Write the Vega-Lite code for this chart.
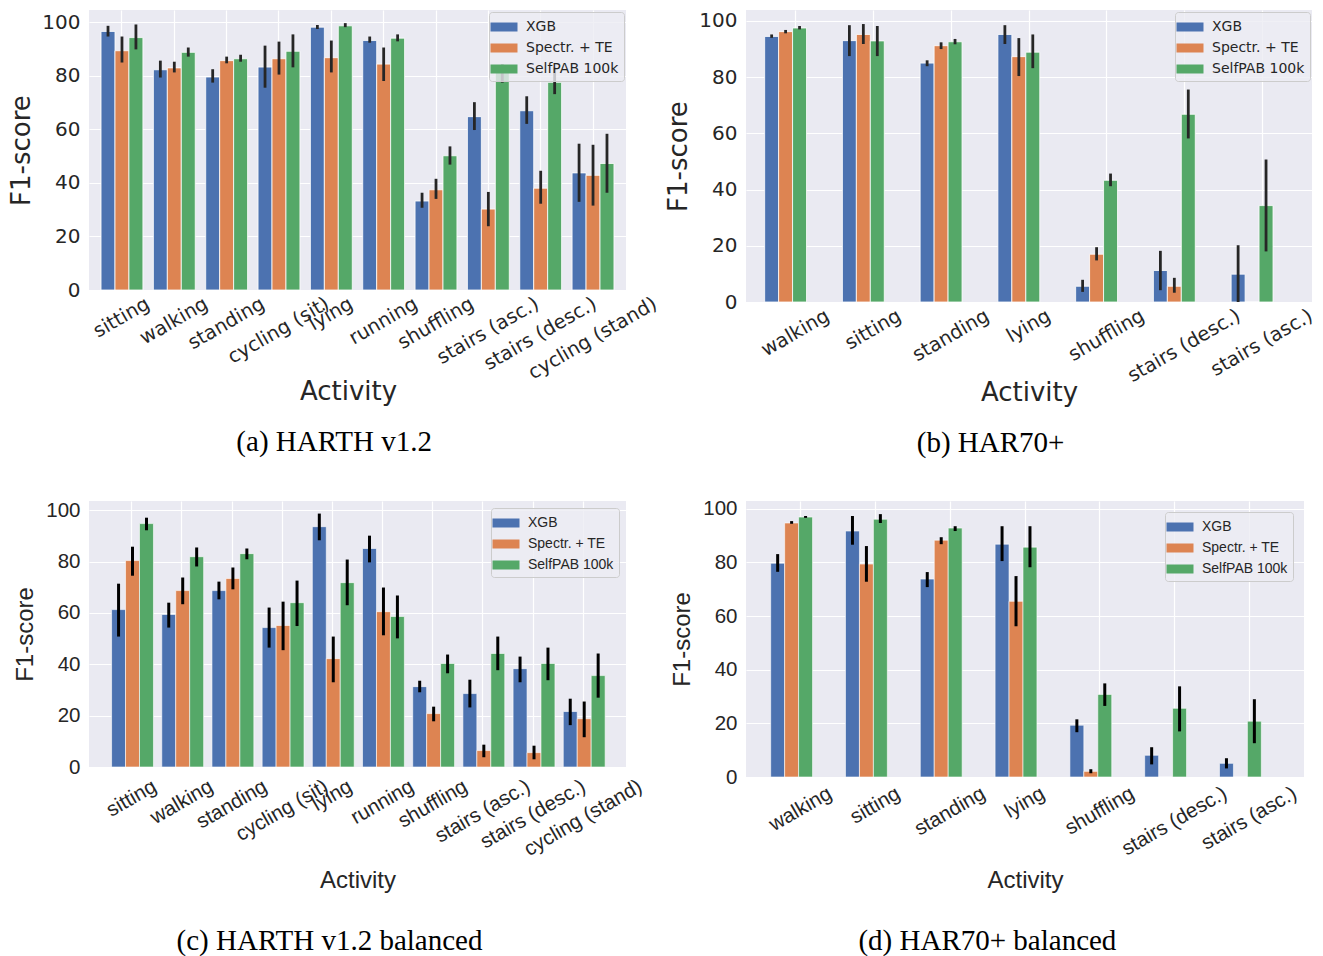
{
  "$schema": "https://vega.github.io/schema/vega-lite/v6.json",
  "padding": {"left": 8, "top": 10, "right": 5, "bottom": 2},
  "background": "white",
  "columns": 2,
  "bounds": "flush",
  "spacing": {"row": 199, "column": 120},
  "resolve": {"scale": {"color": "independent"}, "legend": {"color": "independent"}},
  "config": {
    "view": {"fill": "#EAEAF2", "stroke": null},
    "axis": {"domain": false, "ticks": false, "grid": true, "gridColor": "#ffffff", "gridWidth": 1.2, "labelColor": "#262626", "titleColor": "#262626", "titleFontWeight": "normal"},
    "legend": {"title": null, "symbolType": "M-1.35,-0.45H1.35V0.45H-1.35Z", "symbolSize": 400, "symbolStrokeWidth": 0, "labelFontSize": 14, "labelColor": "#262626", "padding": 5, "rowPadding": 4, "labelOffset": 12, "fillColor": "rgba(236,236,243,0.8)", "strokeColor": "#cccccc", "cornerRadius": 3},
    "title": {"orient": "bottom", "font": "Liberation Serif", "fontSize": 29, "fontWeight": "normal", "color": "#000000", "anchor": "middle", "frame": "bounds"}
  },
  "datasets": {
    "a": [
      {"activity": "sitting", "method": "XGB", "f1": 96.5, "lo": 94.6, "hi": 98.6},
      {"activity": "sitting", "method": "Spectr. + TE", "f1": 89.3, "lo": 84.9, "hi": 94.6},
      {"activity": "sitting", "method": "SelfPAB 100k", "f1": 94.2, "lo": 89.8, "hi": 99.1},
      {"activity": "walking", "method": "XGB", "f1": 82.2, "lo": 79.3, "hi": 85.6},
      {"activity": "walking", "method": "Spectr. + TE", "f1": 82.9, "lo": 81.2, "hi": 85.2},
      {"activity": "walking", "method": "SelfPAB 100k", "f1": 88.7, "lo": 87.1, "hi": 90.5},
      {"activity": "standing", "method": "XGB", "f1": 79.5, "lo": 77.4, "hi": 82.4},
      {"activity": "standing", "method": "Spectr. + TE", "f1": 85.6, "lo": 84.6, "hi": 87.1},
      {"activity": "standing", "method": "SelfPAB 100k", "f1": 86.3, "lo": 85.2, "hi": 87.8},
      {"activity": "cycling (sit)", "method": "XGB", "f1": 83.2, "lo": 75.5, "hi": 91.2},
      {"activity": "cycling (sit)", "method": "Spectr. + TE", "f1": 86.3, "lo": 80.4, "hi": 92.7},
      {"activity": "cycling (sit)", "method": "SelfPAB 100k", "f1": 89.1, "lo": 83.1, "hi": 95.4},
      {"activity": "lying", "method": "XGB", "f1": 98.1, "lo": 97.4, "hi": 98.9},
      {"activity": "lying", "method": "Spectr. + TE", "f1": 86.7, "lo": 81.2, "hi": 93.1},
      {"activity": "lying", "method": "SelfPAB 100k", "f1": 98.6, "lo": 98.1, "hi": 99.6},
      {"activity": "running", "method": "XGB", "f1": 93.1, "lo": 92.3, "hi": 94.6},
      {"activity": "running", "method": "Spectr. + TE", "f1": 84.3, "lo": 78.0, "hi": 90.5},
      {"activity": "running", "method": "SelfPAB 100k", "f1": 94.0, "lo": 92.8, "hi": 95.4},
      {"activity": "shuffling", "method": "XGB", "f1": 33.2, "lo": 30.7, "hi": 36.3},
      {"activity": "shuffling", "method": "Spectr. + TE", "f1": 37.4, "lo": 34.0, "hi": 41.5},
      {"activity": "shuffling", "method": "SelfPAB 100k", "f1": 50.1, "lo": 46.8, "hi": 53.6},
      {"activity": "stairs (asc.)", "method": "XGB", "f1": 64.7, "lo": 59.7, "hi": 70.1},
      {"activity": "stairs (asc.)", "method": "Spectr. + TE", "f1": 30.2, "lo": 23.8, "hi": 36.6},
      {"activity": "stairs (asc.)", "method": "SelfPAB 100k", "f1": 81.7, "lo": 77.4, "hi": 84.3},
      {"activity": "stairs (desc.)", "method": "XGB", "f1": 66.9, "lo": 62.0, "hi": 72.3},
      {"activity": "stairs (desc.)", "method": "Spectr. + TE", "f1": 38.0, "lo": 32.2, "hi": 44.5},
      {"activity": "stairs (desc.)", "method": "SelfPAB 100k", "f1": 77.5, "lo": 73.1, "hi": 83.1},
      {"activity": "cycling (stand)", "method": "XGB", "f1": 43.7, "lo": 32.9, "hi": 54.6},
      {"activity": "cycling (stand)", "method": "Spectr. + TE", "f1": 42.8, "lo": 31.5, "hi": 54.2},
      {"activity": "cycling (stand)", "method": "SelfPAB 100k", "f1": 47.2, "lo": 36.3, "hi": 58.3}
    ],
    "b": [
      {"activity": "walking", "method": "XGB", "f1": 94.5, "lo": 94.0, "hi": 95.2},
      {"activity": "walking", "method": "Spectr. + TE", "f1": 96.2, "lo": 95.6, "hi": 96.8},
      {"activity": "walking", "method": "SelfPAB 100k", "f1": 97.5, "lo": 97.0, "hi": 98.2},
      {"activity": "sitting", "method": "XGB", "f1": 93.0, "lo": 87.5, "hi": 98.5},
      {"activity": "sitting", "method": "Spectr. + TE", "f1": 95.2, "lo": 91.8, "hi": 98.9},
      {"activity": "sitting", "method": "SelfPAB 100k", "f1": 92.9, "lo": 87.5, "hi": 98.2},
      {"activity": "standing", "method": "XGB", "f1": 85.0, "lo": 83.9, "hi": 86.0},
      {"activity": "standing", "method": "Spectr. + TE", "f1": 91.2, "lo": 90.0, "hi": 92.4},
      {"activity": "standing", "method": "SelfPAB 100k", "f1": 92.6, "lo": 91.7, "hi": 93.6},
      {"activity": "lying", "method": "XGB", "f1": 95.2, "lo": 91.8, "hi": 98.5},
      {"activity": "lying", "method": "Spectr. + TE", "f1": 87.3, "lo": 80.4, "hi": 93.9},
      {"activity": "lying", "method": "SelfPAB 100k", "f1": 88.9, "lo": 83.2, "hi": 95.2},
      {"activity": "shuffling", "method": "XGB", "f1": 5.6, "lo": 3.6, "hi": 7.9},
      {"activity": "shuffling", "method": "Spectr. + TE", "f1": 17.0, "lo": 14.8, "hi": 19.5},
      {"activity": "shuffling", "method": "SelfPAB 100k", "f1": 43.3, "lo": 41.2, "hi": 45.7},
      {"activity": "stairs (desc.)", "method": "XGB", "f1": 11.2, "lo": 4.2, "hi": 18.2},
      {"activity": "stairs (desc.)", "method": "Spectr. + TE", "f1": 5.6, "lo": 3.3, "hi": 8.6},
      {"activity": "stairs (desc.)", "method": "SelfPAB 100k", "f1": 66.8, "lo": 58.2, "hi": 75.6},
      {"activity": "stairs (asc.)", "method": "XGB", "f1": 9.9, "lo": 0.0, "hi": 20.2},
      {"activity": "stairs (asc.)", "method": "Spectr. + TE", "f1": 0.0, "lo": null, "hi": null},
      {"activity": "stairs (asc.)", "method": "SelfPAB 100k", "f1": 34.3, "lo": 18.0, "hi": 50.7}
    ],
    "c": [
      {"activity": "sitting", "method": "XGB", "f1": 61.3, "lo": 50.8, "hi": 71.4},
      {"activity": "sitting", "method": "Spectr. + TE", "f1": 80.4, "lo": 74.5, "hi": 85.8},
      {"activity": "sitting", "method": "SelfPAB 100k", "f1": 94.8, "lo": 92.2, "hi": 97.1},
      {"activity": "walking", "method": "XGB", "f1": 59.4, "lo": 54.3, "hi": 64.0},
      {"activity": "walking", "method": "Spectr. + TE", "f1": 68.7, "lo": 63.4, "hi": 73.8},
      {"activity": "walking", "method": "SelfPAB 100k", "f1": 81.9, "lo": 78.1, "hi": 85.5},
      {"activity": "standing", "method": "XGB", "f1": 68.7, "lo": 65.3, "hi": 72.2},
      {"activity": "standing", "method": "Spectr. + TE", "f1": 73.4, "lo": 69.2, "hi": 77.7},
      {"activity": "standing", "method": "SelfPAB 100k", "f1": 83.1, "lo": 80.9, "hi": 85.1},
      {"activity": "cycling (sit)", "method": "XGB", "f1": 54.3, "lo": 46.5, "hi": 62.1},
      {"activity": "cycling (sit)", "method": "Spectr. + TE", "f1": 55.1, "lo": 45.5, "hi": 64.4},
      {"activity": "cycling (sit)", "method": "SelfPAB 100k", "f1": 64.0, "lo": 54.9, "hi": 72.6},
      {"activity": "lying", "method": "XGB", "f1": 93.6, "lo": 88.3, "hi": 98.7},
      {"activity": "lying", "method": "Spectr. + TE", "f1": 42.2, "lo": 33.0, "hi": 50.8},
      {"activity": "lying", "method": "SelfPAB 100k", "f1": 71.8, "lo": 63.0, "hi": 80.8},
      {"activity": "running", "method": "XGB", "f1": 85.1, "lo": 79.7, "hi": 90.1},
      {"activity": "running", "method": "Spectr. + TE", "f1": 60.5, "lo": 51.3, "hi": 69.9},
      {"activity": "running", "method": "SelfPAB 100k", "f1": 58.6, "lo": 50.1, "hi": 66.8},
      {"activity": "shuffling", "method": "XGB", "f1": 31.3, "lo": 29.1, "hi": 33.6},
      {"activity": "shuffling", "method": "Spectr. + TE", "f1": 20.8, "lo": 17.8, "hi": 23.5},
      {"activity": "shuffling", "method": "SelfPAB 100k", "f1": 40.3, "lo": 36.5, "hi": 43.8},
      {"activity": "stairs (asc.)", "method": "XGB", "f1": 28.6, "lo": 23.2, "hi": 34.0},
      {"activity": "stairs (asc.)", "method": "Spectr. + TE", "f1": 6.4, "lo": 3.8, "hi": 8.7},
      {"activity": "stairs (asc.)", "method": "SelfPAB 100k", "f1": 44.2, "lo": 37.7, "hi": 50.8},
      {"activity": "stairs (desc.)", "method": "XGB", "f1": 38.3, "lo": 33.0, "hi": 43.0},
      {"activity": "stairs (desc.)", "method": "Spectr. + TE", "f1": 5.6, "lo": 3.0, "hi": 8.3},
      {"activity": "stairs (desc.)", "method": "SelfPAB 100k", "f1": 40.3, "lo": 33.8, "hi": 46.5},
      {"activity": "cycling (stand)", "method": "XGB", "f1": 21.6, "lo": 16.3, "hi": 26.6},
      {"activity": "cycling (stand)", "method": "Spectr. + TE", "f1": 18.8, "lo": 11.6, "hi": 25.5},
      {"activity": "cycling (stand)", "method": "SelfPAB 100k", "f1": 35.6, "lo": 27.0, "hi": 44.2}
    ],
    "d": [
      {"activity": "walking", "method": "XGB", "f1": 79.7, "lo": 76.5, "hi": 83.1},
      {"activity": "walking", "method": "Spectr. + TE", "f1": 94.7, "lo": 94.4, "hi": 95.4},
      {"activity": "walking", "method": "SelfPAB 100k", "f1": 96.9, "lo": 96.6, "hi": 97.3},
      {"activity": "sitting", "method": "XGB", "f1": 91.7, "lo": 86.6, "hi": 97.3},
      {"activity": "sitting", "method": "Spectr. + TE", "f1": 79.4, "lo": 72.8, "hi": 86.1},
      {"activity": "sitting", "method": "SelfPAB 100k", "f1": 96.1, "lo": 94.7, "hi": 98.0},
      {"activity": "standing", "method": "XGB", "f1": 73.8, "lo": 70.8, "hi": 76.4},
      {"activity": "standing", "method": "Spectr. + TE", "f1": 88.3, "lo": 86.8, "hi": 89.4},
      {"activity": "standing", "method": "SelfPAB 100k", "f1": 92.8, "lo": 91.7, "hi": 93.5},
      {"activity": "lying", "method": "XGB", "f1": 86.8, "lo": 80.5, "hi": 93.5},
      {"activity": "lying", "method": "Spectr. + TE", "f1": 65.5, "lo": 56.2, "hi": 74.9},
      {"activity": "lying", "method": "SelfPAB 100k", "f1": 85.7, "lo": 78.2, "hi": 93.5},
      {"activity": "shuffling", "method": "XGB", "f1": 19.3, "lo": 16.7, "hi": 21.5},
      {"activity": "shuffling", "method": "Spectr. + TE", "f1": 2.1, "lo": 1.4, "hi": 2.9},
      {"activity": "shuffling", "method": "SelfPAB 100k", "f1": 30.8, "lo": 26.5, "hi": 34.9},
      {"activity": "stairs (desc.)", "method": "XGB", "f1": 8.1, "lo": 4.7, "hi": 11.1},
      {"activity": "stairs (desc.)", "method": "Spectr. + TE", "f1": 0.0, "lo": null, "hi": null},
      {"activity": "stairs (desc.)", "method": "SelfPAB 100k", "f1": 25.6, "lo": 17.0, "hi": 33.8},
      {"activity": "stairs (asc.)", "method": "XGB", "f1": 5.1, "lo": 3.2, "hi": 7.0},
      {"activity": "stairs (asc.)", "method": "Spectr. + TE", "f1": 0.0, "lo": null, "hi": null},
      {"activity": "stairs (asc.)", "method": "SelfPAB 100k", "f1": 20.8, "lo": 12.6, "hi": 29.0}
    ]
  },
  "concat": [
    {
      "width": 537, "height": 280,
      "data": {"name": "a"},
      "title": {"text": "(a) HARTH v1.2", "offset": 24},
      "encoding": {
        "x": {"field": "activity", "type": "nominal", "sort": null,
          "scale": {"paddingInner": 0.2, "paddingOuter": 0.23},
          "axis": {"title": "Activity", "titleFont": "DejaVu Sans", "titleFontSize": 26, "titlePadding": -4, "titleX": 259, "labelFont": "DejaVu Sans", "labelFontSize": 19.5, "labelAngle": -30, "labelAlign": "right", "labelBaseline": "top", "labelPadding": 4, "labelOverlap": false, "labelLimit": 0, "bandPosition": 0.5,
            "labelOffset": {"expr": "datum.value == 'sitting' ? 21.5 : datum.value == 'walking' ? 27.5 : datum.value == 'standing' ? 31.8 : datum.value == 'cycling (sit)' ? 44.1 : datum.value == 'lying' ? 15.5 : datum.value == 'running' ? 27.7 : datum.value == 'shuffling' ? 31.6 : datum.value == 'stairs (asc.)' ? 44.4 : datum.value == 'stairs (desc.)' ? 49.8 : 57.7"}}},
        "xOffset": {"field": "method", "type": "nominal", "sort": ["XGB", "Spectr. + TE", "SelfPAB 100k"], "scale": {"paddingInner": 0, "paddingOuter": 0}}
      },
      "layer": [
        {"mark": {"type": "bar", "stroke": "#ffffff", "strokeWidth": 0.8},
          "encoding": {
            "y": {"field": "f1", "type": "quantitative", "scale": {"domain": [0, 104.5], "nice": false, "zero": true},
              "axis": {"title": "F1-score", "titleFont": "DejaVu Sans", "titleFontSize": 26, "titlePadding": 7, "labelFont": "DejaVu Sans", "labelFontSize": 20, "labelPadding": 9, "values": [0, 20, 40, 60, 80, 100]}},
            "color": {"field": "method", "type": "nominal",
              "scale": {"domain": ["XGB", "Spectr. + TE", "SelfPAB 100k"], "range": ["#4C72B0", "#DD8452", "#55A868"]},
              "legend": {"orient": "top-right", "offset": 2, "labelFont": "DejaVu Sans"}}
          }},
        {"mark": {"type": "rule", "color": "#262626", "strokeWidth": 2.8},
          "encoding": {"y": {"field": "lo", "type": "quantitative"}, "y2": {"field": "hi"}}}
      ]
    },
    {
      "width": 566, "height": 292,
      "data": {"name": "b"},
      "title": {"text": "(b) HAR70+", "offset": 24},
      "encoding": {
        "x": {"field": "activity", "type": "nominal", "sort": null,
          "scale": {"paddingInner": 0.2, "paddingOuter": 0.24},
          "axis": {"title": "Activity", "titleFont": "DejaVu Sans", "titleFontSize": 26, "titlePadding": -6, "labelFont": "DejaVu Sans", "labelFontSize": 19.5, "labelAngle": -30, "labelAlign": "right", "labelBaseline": "top", "labelPadding": 4, "labelOverlap": false, "labelLimit": 0, "bandPosition": 0.5,
            "labelOffset": {"expr": "datum.value == 'walking' ? 27.5 : datum.value == 'sitting' ? 21.5 : datum.value == 'standing' ? 31.8 : datum.value == 'lying' ? 15.5 : datum.value == 'shuffling' ? 31.6 : datum.value == 'stairs (desc.)' ? 49.8 : 44.4"}}},
        "xOffset": {"field": "method", "type": "nominal", "sort": ["XGB", "Spectr. + TE", "SelfPAB 100k"], "scale": {"paddingInner": 0, "paddingOuter": 0}}
      },
      "layer": [
        {"mark": {"type": "bar", "stroke": "#ffffff", "strokeWidth": 0.8},
          "encoding": {
            "y": {"field": "f1", "type": "quantitative", "scale": {"domain": [0, 103.9], "nice": false, "zero": true},
              "axis": {"title": "F1-score", "titleFont": "DejaVu Sans", "titleFontSize": 26, "titlePadding": 7, "labelFont": "DejaVu Sans", "labelFontSize": 20, "labelPadding": 9, "values": [0, 20, 40, 60, 80, 100]}},
            "color": {"field": "method", "type": "nominal",
              "scale": {"domain": ["XGB", "Spectr. + TE", "SelfPAB 100k"], "range": ["#4C72B0", "#DD8452", "#55A868"]},
              "legend": {"orient": "top-right", "offset": 2, "labelFont": "DejaVu Sans"}}
          }},
        {"mark": {"type": "rule", "color": "#262626", "strokeWidth": 2.8},
          "encoding": {"y": {"field": "lo", "type": "quantitative"}, "y2": {"field": "hi"}}}
      ]
    },
    {
      "width": 537, "height": 266,
      "data": {"name": "c"},
      "title": {"text": "(c) HARTH v1.2 balanced", "offset": 34},
      "encoding": {
        "x": {"field": "activity", "type": "nominal", "sort": null,
          "scale": {"paddingInner": 0.2, "paddingOuter": 0.45},
          "axis": {"title": "Activity", "titleFont": "Liberation Sans", "titleFontSize": 24, "titlePadding": 9, "labelFont": "Liberation Sans", "labelFontSize": 20.5, "labelAngle": -30, "labelAlign": "right", "labelBaseline": "top", "labelPadding": 9, "labelOverlap": false, "labelLimit": 0, "bandPosition": 0.5,
            "labelOffset": {"expr": "datum.value == 'sitting' ? 18.1 : datum.value == 'walking' ? 24.5 : datum.value == 'standing' ? 28.4 : datum.value == 'cycling (sit)' ? 39.3 : datum.value == 'lying' ? 13.1 : datum.value == 'running' ? 24.5 : datum.value == 'shuffling' ? 27.9 : datum.value == 'stairs (asc.)' ? 40.7 : datum.value == 'stairs (desc.)' ? 45.7 : 52.1"}}},
        "xOffset": {"field": "method", "type": "nominal", "sort": ["XGB", "Spectr. + TE", "SelfPAB 100k"], "scale": {"paddingInner": 0, "paddingOuter": 0}}
      },
      "layer": [
        {"mark": {"type": "bar", "stroke": "#ffffff", "strokeWidth": 0.6},
          "encoding": {
            "y": {"field": "f1", "type": "quantitative", "scale": {"domain": [0, 103.6], "nice": false, "zero": true},
              "axis": {"title": "F1-score", "titleFont": "Liberation Sans", "titleFontSize": 24, "titlePadding": 8, "labelFont": "Liberation Sans", "labelFontSize": 20.5, "labelPadding": 9, "values": [0, 20, 40, 60, 80, 100]}},
            "color": {"field": "method", "type": "nominal",
              "scale": {"domain": ["XGB", "Spectr. + TE", "SelfPAB 100k"], "range": ["#4C72B0", "#DD8452", "#55A868"]},
              "legend": {"orient": "top-right", "offset": 7, "labelFont": "Liberation Sans"}}
          }},
        {"mark": {"type": "rule", "color": "#000000", "strokeWidth": 3},
          "encoding": {"y": {"field": "lo", "type": "quantitative"}, "y2": {"field": "hi"}}}
      ]
    },
    {
      "width": 558, "height": 276,
      "data": {"name": "d"},
      "title": {"text": "(d) HAR70+ balanced", "offset": 35},
      "encoding": {
        "x": {"field": "activity", "type": "nominal", "sort": null,
          "scale": {"paddingInner": 0.2, "paddingOuter": 0.33},
          "axis": {"title": "Activity", "titleFont": "Liberation Sans", "titleFontSize": 24, "titlePadding": 9, "labelFont": "Liberation Sans", "labelFontSize": 20.5, "labelAngle": -30, "labelAlign": "right", "labelBaseline": "top", "labelPadding": 6, "labelOverlap": false, "labelLimit": 0, "bandPosition": 0.5,
            "labelOffset": {"expr": "datum.value == 'walking' ? 24.5 : datum.value == 'sitting' ? 18.1 : datum.value == 'standing' ? 28.4 : datum.value == 'lying' ? 13.1 : datum.value == 'shuffling' ? 27.9 : datum.value == 'stairs (desc.)' ? 45.7 : 40.7"}}},
        "xOffset": {"field": "method", "type": "nominal", "sort": ["XGB", "Spectr. + TE", "SelfPAB 100k"], "scale": {"paddingInner": 0, "paddingOuter": 0}}
      },
      "layer": [
        {"mark": {"type": "bar", "stroke": "#ffffff", "strokeWidth": 0.6},
          "encoding": {
            "y": {"field": "f1", "type": "quantitative", "scale": {"domain": [0, 102.9], "nice": false, "zero": true},
              "axis": {"title": "F1-score", "titleFont": "Liberation Sans", "titleFontSize": 24, "titlePadding": 8, "labelFont": "Liberation Sans", "labelFontSize": 20.5, "labelPadding": 9, "values": [0, 20, 40, 60, 80, 100]}},
            "color": {"field": "method", "type": "nominal",
              "scale": {"domain": ["XGB", "Spectr. + TE", "SelfPAB 100k"], "range": ["#4C72B0", "#DD8452", "#55A868"]},
              "legend": {"orient": "top-right", "offset": 11, "labelFont": "Liberation Sans"}}
          }},
        {"mark": {"type": "rule", "color": "#000000", "strokeWidth": 3},
          "encoding": {"y": {"field": "lo", "type": "quantitative"}, "y2": {"field": "hi"}}}
      ]
    }
  ]
}
